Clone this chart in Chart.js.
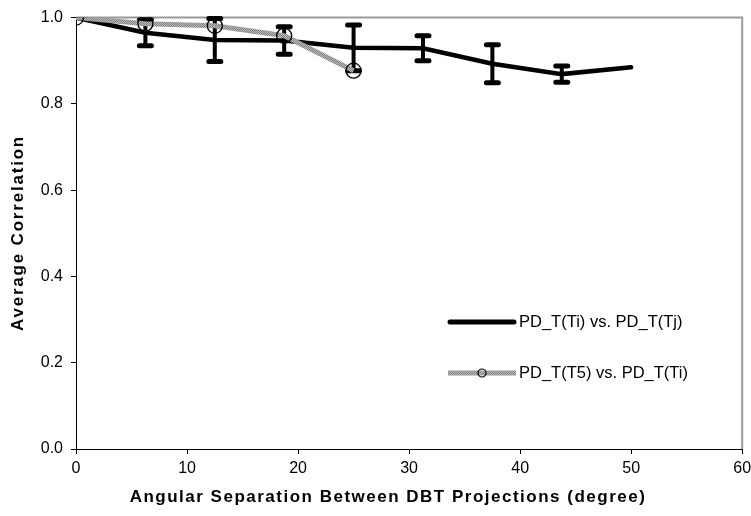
<!DOCTYPE html>
<html>
<head>
<meta charset="utf-8">
<script src="https://cdn.jsdelivr.net/npm/chart.js@4"></script>
<style>
  html, body { margin: 0; padding: 0; background: #fff; }
  #wrap { width: 751px; height: 516px; }
</style>
</head>
<body>
<div id="wrap"><canvas id="chart" width="751" height="516"></canvas></div>
<script>
// values
const angles = [0, 6.25, 12.5, 18.75, 25, 31.25, 37.5, 43.75, 50];
const corrTiTj = [1.0, 0.965, 0.948, 0.947, 0.930, 0.929, 0.893, 0.869, 0.885];
const errTiTj = [0, 0.030, 0.050, 0.032, 0.053, 0.029, 0.044, 0.019, 0];
const anglesT5 = [0, 6.25, 12.5, 18.75, 25];
const corrT5Ti = [1.0, 0.986, 0.981, 0.958, 0.877];
const seriesNames = ['PD_T(Ti) vs. PD_T(Tj)', 'PD_T(T5) vs. PD_T(Ti)'];
const xTitle = 'Angular Separation Between DBT Projections (degree)';
const yTitle = 'Average Correlation';

const FONT = '"Liberation Sans", Arial, sans-serif';

// speckled grey used by the second line
function greyPattern() {
    const c = document.createElement('canvas');
    c.width = 2; c.height = 2;
    const g = c.getContext('2d');
    g.fillStyle = '#bcbcbc';
    g.fillRect(0, 0, 2, 2);
    g.fillStyle = '#808080';
    g.fillRect(0, 0, 1, 1);
    g.fillRect(1, 1, 1, 1);
    return g.createPattern(c, 'repeat');
}
const grey = greyPattern();

const errorBars = {
    id: 'errorBars',
    afterDatasetDraw(chart, args) {
        if (args.index !== 1) return;
        const ctx = chart.ctx;
        const xs = chart.scales.x, ys = chart.scales.y;
        ctx.save();
        ctx.strokeStyle = '#000';
        ctx.lineCap = 'round';
        angles.forEach((a, i) => {
            const e = errTiTj[i];
            if (!e) return;
            const px = xs.getPixelForValue(a);
            const top = ys.getPixelForValue(corrTiTj[i] + e);
            const bot = ys.getPixelForValue(corrTiTj[i] - e);
            ctx.lineWidth = 4;
            ctx.beginPath();
            ctx.moveTo(px, top); ctx.lineTo(px, bot);
            ctx.stroke();
            ctx.lineWidth = 5;
            ctx.beginPath();
            ctx.moveTo(px - 6, top); ctx.lineTo(px + 6, top);
            ctx.moveTo(px - 6, bot); ctx.lineTo(px + 6, bot);
            ctx.stroke();
        });
        ctx.restore();
    }
};

const frameAndLegend = {
    id: 'frameAndLegend',
    beforeDatasetsDraw(chart) {
        const ctx = chart.ctx, a = chart.chartArea;
        ctx.save();
        ctx.strokeStyle = '#999';
        ctx.lineWidth = 2;
        ctx.beginPath();
        ctx.moveTo(a.left, a.top);
        ctx.lineTo(a.right, a.top);
        ctx.lineTo(a.right, a.bottom);
        ctx.stroke();
        ctx.restore();
    },
    afterDraw(chart) {
        const ctx = chart.ctx;
        ctx.save();
        ctx.fillStyle = '#000';
        ctx.textBaseline = 'middle';
        ctx.textAlign = 'center';
        // axis titles
        ctx.font = 'bold 17px ' + FONT;
        ctx.letterSpacing = '1.5px';
        ctx.fillText(xTitle, 388, 497);
        ctx.letterSpacing = '1.8px';
        ctx.translate(18, 233);
        ctx.rotate(-Math.PI / 2);
        ctx.fillText(yTitle, 0, 0);
        ctx.setTransform(1, 0, 0, 1, 0, 0);
        ctx.letterSpacing = '0px';

        ctx.textAlign = 'left';
        ctx.font = '16.5px ' + FONT;
        // entry 1
        ctx.strokeStyle = '#000';
        ctx.lineWidth = 5;
        ctx.lineCap = 'round';
        ctx.beginPath();
        ctx.moveTo(450, 322); ctx.lineTo(514, 322);
        ctx.stroke();
        ctx.fillText(seriesNames[0], 519, 322);
        // entry 2
        ctx.strokeStyle = grey;
        ctx.lineCap = 'butt';
        ctx.beginPath();
        ctx.moveTo(448, 373); ctx.lineTo(516, 373);
        ctx.stroke();
        ctx.strokeStyle = '#000';
        ctx.lineWidth = 1.2;
        ctx.beginPath();
        ctx.arc(482, 373, 4, 0, Math.PI * 2);
        ctx.stroke();
        ctx.fillText(seriesNames[1], 519, 373);
        ctx.restore();
    }
};

new Chart(document.getElementById('chart'), {
    type: 'line',
    data: {
        datasets: [
            {
                label: seriesNames[1],
                data: anglesT5.map((a, i) => ({ x: a, y: corrT5Ti[i] })),
                borderColor: grey,
                borderWidth: 5,
                pointRadius: 7.5,
                pointBorderColor: '#000',
                pointBorderWidth: 1.3,
                pointBackgroundColor: 'rgba(0,0,0,0)',
                tension: 0
            },
            {
                label: seriesNames[0],
                data: angles.map((a, i) => ({ x: a, y: corrTiTj[i] })),
                borderColor: '#000',
                borderWidth: 4.5,
                borderCapStyle: 'round',
                pointRadius: 0,
                tension: 0
            }
        ]
    },
    options: {
        responsive: false,
        animation: false,
        devicePixelRatio: 1,
        layout: { padding: { left: 0, right: 8, top: 17, bottom: 0 } },
        plugins: { legend: { display: false }, tooltip: { enabled: false } },
        scales: {
            x: {
                type: 'linear',
                min: 0, max: 60,
                afterFit: s => { s.height = 67; s.paddingRight = 0; s.paddingLeft = 0; },
                ticks: { stepSize: 10, color: '#000', font: { family: FONT, size: 16 }, padding: 5 },
                grid: { drawOnChartArea: false, color: '#000', tickLength: 5 },
                border: { color: '#000', width: 1 }
            },
            y: {
                min: 0, max: 1,
                afterFit: s => { s.width = 76; },
                ticks: { stepSize: 0.2, color: '#000', font: { family: FONT, size: 16 }, padding: 8,
                    callback: v => v.toFixed(1) },
                grid: { drawOnChartArea: false, color: '#000', tickLength: 5 },
                border: { color: '#000', width: 1 }
            }
        }
    },
    plugins: [errorBars, frameAndLegend]
});
</script>
</body>
</html>
